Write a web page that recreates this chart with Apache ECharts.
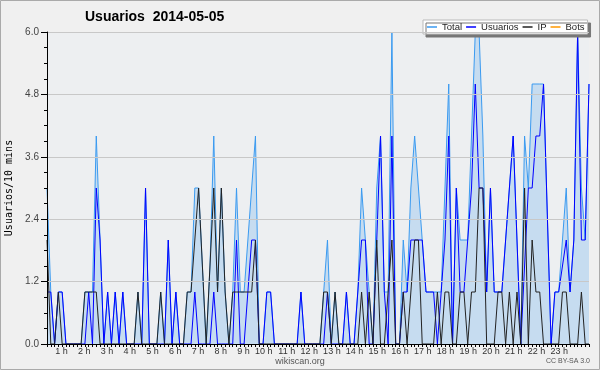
<!DOCTYPE html>
<html>
<head>
<meta charset="utf-8">
<script src="https://cdn.jsdelivr.net/npm/echarts@6/dist/echarts.min.js"></script>
<style>
html,body{margin:0;padding:0;background:#f0f0f0;}
#c{width:600px;height:370px;}
</style>
</head>
<body>
<div id="c"></div>
<script>
// ---- data (values per 10-minute slot, 144 slots) ----
const hourLabels = ['1 h','2 h','3 h','4 h','5 h','6 h','7 h','8 h','9 h','10 h','11 h','12 h',
  '13 h','14 h','15 h','16 h','17 h','18 h','19 h','20 h','21 h','22 h','23 h'];

const total = [
  3,1,0,1,1,0,0,0,0,0,
  1,1,1,4,2,0,1,0,1,0,
  1,0,0,0,1,0,3,0,0,0,
  1,0,2,0,1,0,0,1,1,3,
  3,1.5,0,1.5,4,1,3,1,0,1,
  3,1,1,2,3,4,0,0,1,1,
  0,0,0,0,0,0,0,1,0,0,
  0,0,0,1,2,0,1,0,0,1,
  0,0,1,3,2,1,0,3,4,1,
  1,6,0,0,2,1,3,4,3,2,
  1,1,1,1,1,3,5,0,3,2,
  2,2,4,6,6,4,1,3,1,1,
  1,2,3,4,2,0,4,3,5,5,
  5,5,2.5,0,1,1,2,3,1,2,
  6,3,2,5
];
const usuarios = [
  1,1,0,1,1,0,0,0,0,0,
  0,1,0,3,2,0,1,0,1,0,
  1,0,0,0,0,0,3,0,0,0,
  0,0,2,0,1,0,0,0,0,1,
  0,0,0,0,1,0,0,0,0,0,
  2,0,0,1,2,2,0,0,1,1,
  0,0,0,0,0,0,0,1,0,0,
  0,0,0,0,1,0,0,0,0,1,
  0,0,1,2,2,0,0,2,4,1,
  0,4,0,0,1,1,2,2,2,2,
  1,1,1,0,1,2,4,0,3,1,
  1,2,3,5,3,3,1,3,1,1,
  1,2,3,4,2,0,1.5,3,3,4,
  4,5,2.5,0,1,1,1.5,2,1,2,
  6,2,2,5
];
const ip = [
  2,0,0,1,0,0,0,0,0,0,
  1,1,1,1,0,0,0,0,0,0,
  0,0,0,0,1,0,0,0,0,0,
  1,0,0,0,0,0,0,1,1,2,
  3,1.5,0,1.5,3,1,3,1,0,1,
  1,1,1,1,1,2,0,0,0,0,
  0,0,0,0,0,0,0,0,0,0,
  0,0,0,1,1,0,1,0,0,0,
  0,0,0,1,0,1,0,2,0,0,
  1,2,0,0,1,0,1,2,2,0,
  0,0,0,1,0,1,1,0,0,1,
  1,0,1,1,3,3,0,0,0,1,
  1,0,1,0,1,0,3,0,2,1,
  1,0,0,0,0,0,1,1,0,0,
  0,1,0,0
];
const bots = [
  0,0,0,0,0,0,0,0,0,0, 0,0,0,0,0,0,0,0,0,0, 0,0,0,0,0,0,0,0,0,0,
  0,0,0,0,0,0,0,0,0,0, 0,0,0,0,0,0,0,0,0,0, 0,0,0,0,0,0,0,0,0,0,
  0,0,0,0,0,0,0,0,0,0, 0,0,0,0,0,0,0,0,0,0, 0,0,0,0,0,0,0,0,0,0,
  0,0,0,0,0,0,0,0,0,0, 0,0,0,0,0,0,0,0,0,0, 0,0,0,0,0,0,0,0,0,0,
  0,0,0,0,0,0,0,0,0,0, 0,0,0,0,0,0,0,0,0,0, 0,0,0,0
];

// 10-minute slot categories
const slots = [];
for (let h = 0; h < 24; h++) for (let m = 0; m < 60; m += 10)
  slots.push((h < 10 ? '0' : '') + h + ':' + (m < 10 ? '0' : '') + m);

const chart = echarts.init(document.getElementById('c'), null, {renderer: 'canvas', width: 600, height: 370});
const lineBase = {type: 'line', showSymbol: false, symbol: 'none', smooth: false, animation: false};

chart.setOption({
  animation: false,
  backgroundColor: '#f0f0f0',
  title: {
    text: 'Usuarios  2014-05-05', left: 85, top: 10, padding: 0,
    textStyle: {fontFamily: 'Liberation Sans', fontWeight: 'bold', fontSize: 14, color: '#000'}
  },
  legend: {
    data: ['Total', 'Usuarios', 'IP', 'Bots'],
    left: 423, top: 20, padding: [2, 3, 2, 4],
    itemGap: 4, itemWidth: 10, itemHeight: 1.5, icon: 'rect',
    backgroundColor: '#fff', borderColor: '#bbb', borderWidth: 1,
    shadowColor: '#777', shadowOffsetX: 3, shadowOffsetY: 3, shadowBlur: 0,
    textStyle: {fontFamily: 'Liberation Sans', fontSize: 9.5, color: '#222'}
  },
  grid: {left: 47, right: 11, top: 32, bottom: 26, show: true, backgroundColor: '#edeff1', borderWidth: 0,
    containLabel: false, outerBoundsMode: 'none'},
  xAxis: {
    type: 'category', data: slots, boundaryGap: false, z: 10,
    axisLine: {lineStyle: {color: '#000', width: 1}},
    axisTick: {interval: 0, length: 3, lineStyle: {color: '#000'}},
    axisLabel: {
      interval: (i) => i % 6 === 0 && i > 0,
      formatter: (v, i) => hourLabels[i / 6 - 1] || '',
      align: 'right', padding: [0, 2, 0, 0], margin: 3,
      fontFamily: 'Liberation Sans', fontSize: 9, color: '#333'
    },
    splitLine: {show: false}
  },
  yAxis: {
    type: 'value', min: 0, max: 6, interval: 1.2, z: 10,
    axisLine: {show: true, lineStyle: {color: '#000'}},
    axisTick: {show: true, length: 6, lineStyle: {color: '#000'}},
    minorTick: {show: true, splitNumber: 4, length: 3, lineStyle: {color: '#000'}},
    axisLabel: {formatter: (v) => v.toFixed(1), fontFamily: 'Liberation Sans', fontSize: 10, color: '#444', margin: 8},
    splitLine: {lineStyle: {color: '#c8c8c8', width: 1}},
    name: 'Usuarios/10 mins', nameLocation: 'middle', nameGap: 31,
    nameTextStyle: {fontFamily: 'DejaVu Sans Mono', fontSize: 10, color: '#000'}
  },
  series: [
    Object.assign({}, lineBase, {name: 'Total', data: total, z: 2,
      lineStyle: {color: '#3a9af0', width: 1}, itemStyle: {color: '#3a9af0'},
      areaStyle: {color: '#c6dcf0', opacity: 1}}),
    Object.assign({}, lineBase, {name: 'Usuarios', data: usuarios, z: 3,
      lineStyle: {color: '#0000ff', width: 1}, itemStyle: {color: '#0000ff'}}),
    Object.assign({}, lineBase, {name: 'IP', data: ip, z: 4,
      lineStyle: {color: '#222', width: 1}, itemStyle: {color: '#222'}}),
    Object.assign({}, lineBase, {name: 'Bots', data: bots, z: 1,
      lineStyle: {color: '#ff9900', width: 1}, itemStyle: {color: '#ff9900'}})
  ],
  graphic: [
    {type: 'rect', shape: {x: 0.5, y: 0.5, width: 599, height: 369}, style: {fill: 'none', stroke: '#aaa', lineWidth: 1}, z: 100},
    {type: 'text', left: 'center', top: 357, style: {text: 'wikiscan.org', fontFamily: 'Liberation Sans', fontSize: 9, fill: '#555'}},
    {type: 'text', right: 10, top: 358, style: {text: 'CC BY-SA 3.0', fontFamily: 'Liberation Sans', fontSize: 7, fill: '#555'}}
  ]
});
</script>
</body>
</html>
